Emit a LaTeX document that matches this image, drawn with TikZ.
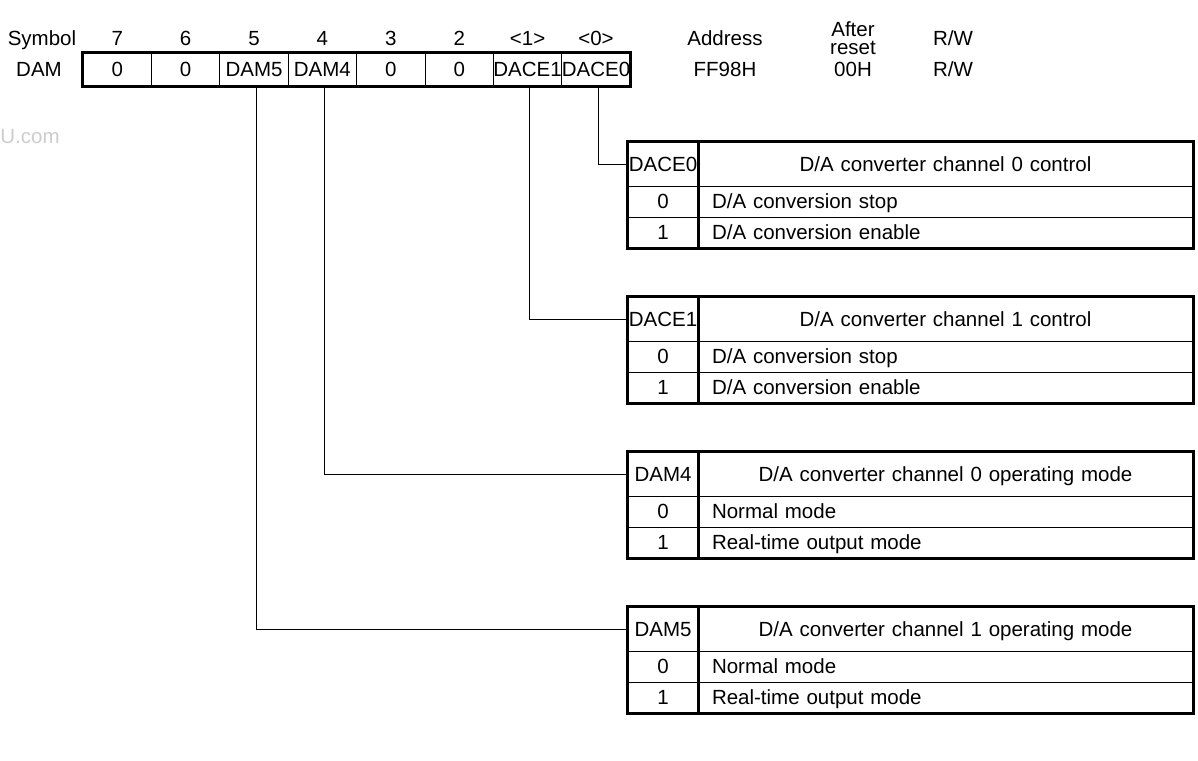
\documentclass[tikz,border=0pt]{standalone}
\usepackage{fontspec}
\setmainfont{Liberation Sans}
\begin{document}
\begin{tikzpicture}[x=1pt,y=-1pt,
  txt/.style={font=\fontsize{20.5}{22}\selectfont, inner sep=0pt},
  celltxt/.style={txt, text height=14.7pt, text depth=0pt},
  regcell/.style={celltxt, draw, line width=0.8pt, minimum width=68.4pt, minimum height=33pt},
  keycell/.style={celltxt, draw, line width=0.8pt, minimum width=70pt, minimum height=31pt},
  keyhead/.style={keycell, minimum height=44pt},
  desccell/.style={celltxt, draw, line width=0.8pt, minimum width=495pt, minimum height=31pt, text width=467pt, inner xsep=14pt, align=left},
  deschead/.style={desccell, minimum height=44pt, align=center},
  frame/.style={line width=2.4pt, line cap=rect},
  wire/.style={line width=0.8pt}]
\useasboundingbox (0,0) rectangle (1198,760);

% header row
\node[celltxt] (sym) at (42,38) {Symbol};
\node[celltxt] (dam) at (39,69.5) {DAM};
\node[celltxt] (addrh) at (725,38) {Address};
\node[celltxt] (arh1) at (853,29) {After};
\node[celltxt] (arh2) at (853,47.5) {reset};
\node[celltxt] (rwh) at (953,38) {R/W};
\node[celltxt] (addr) at (725,69.5) {FF98H};
\node[celltxt] (ar) at (853,69.5) {00H};
\node[celltxt] (rw) at (953,69.5) {R/W};
\node[celltxt, text=black!20] (wm) at (30,136) {U.com};

% register cells
\foreach \i/\b/\v in {0/7/0,1/6/0,2/5/DAM5,3/4/DAM4,4/3/0,5/2/0,6/<1>/DACE1,7/<0>/DACE0}{
  \node[regcell] (r\i) at ({117.2+68.4*\i},69.5) {\v};
  \node[celltxt] (b\i) at ({117.2+68.4*\i},38) {\b};
}
\draw[frame] (r0.north west) rectangle (r7.south east);

% tables
\foreach \n/\T/\k/\h/\a/\c in {
  A/142/DACE0/{D/A converter channel 0 control}/{D/A conversion stop}/{D/A conversion enable},
  B/297/DACE1/{D/A converter channel 1 control}/{D/A conversion stop}/{D/A conversion enable},
  C/452/DAM4/{D/A converter channel 0 operating mode}/{Normal mode}/{Real-time output mode},
  D/607/DAM5/{D/A converter channel 1 operating mode}/{Normal mode}/{Real-time output mode}}{
  \node[keyhead] (\n k) at (663,\T+22) {\k};
  \node[deschead] (\n h) at (945.5,\T+22) {\h};
  \node[keycell] (\n 0) at (663,\T+59.5) {0};
  \node[desccell] (\n a) at (945.5,\T+59.5) {\a};
  \node[keycell] (\n 1) at (663,\T+90.5) {1};
  \node[desccell] (\n b) at (945.5,\T+90.5) {\c};
  \draw[frame] (\n k.north west) rectangle (\n b.south east);
  \draw[frame] (\n k.north east) -- (\n 1.south east);
}

% connectors
\draw[wire] ([xshift=2pt]r7.south) |- (Ak.west);
\draw[wire] ([xshift=2pt]r6.south) |- (Bk.west);
\draw[wire] ([xshift=2pt]r3.south) |- (Ck.west);
\draw[wire] ([xshift=2pt]r2.south) |- (Dk.west);
\end{tikzpicture}
\end{document}
